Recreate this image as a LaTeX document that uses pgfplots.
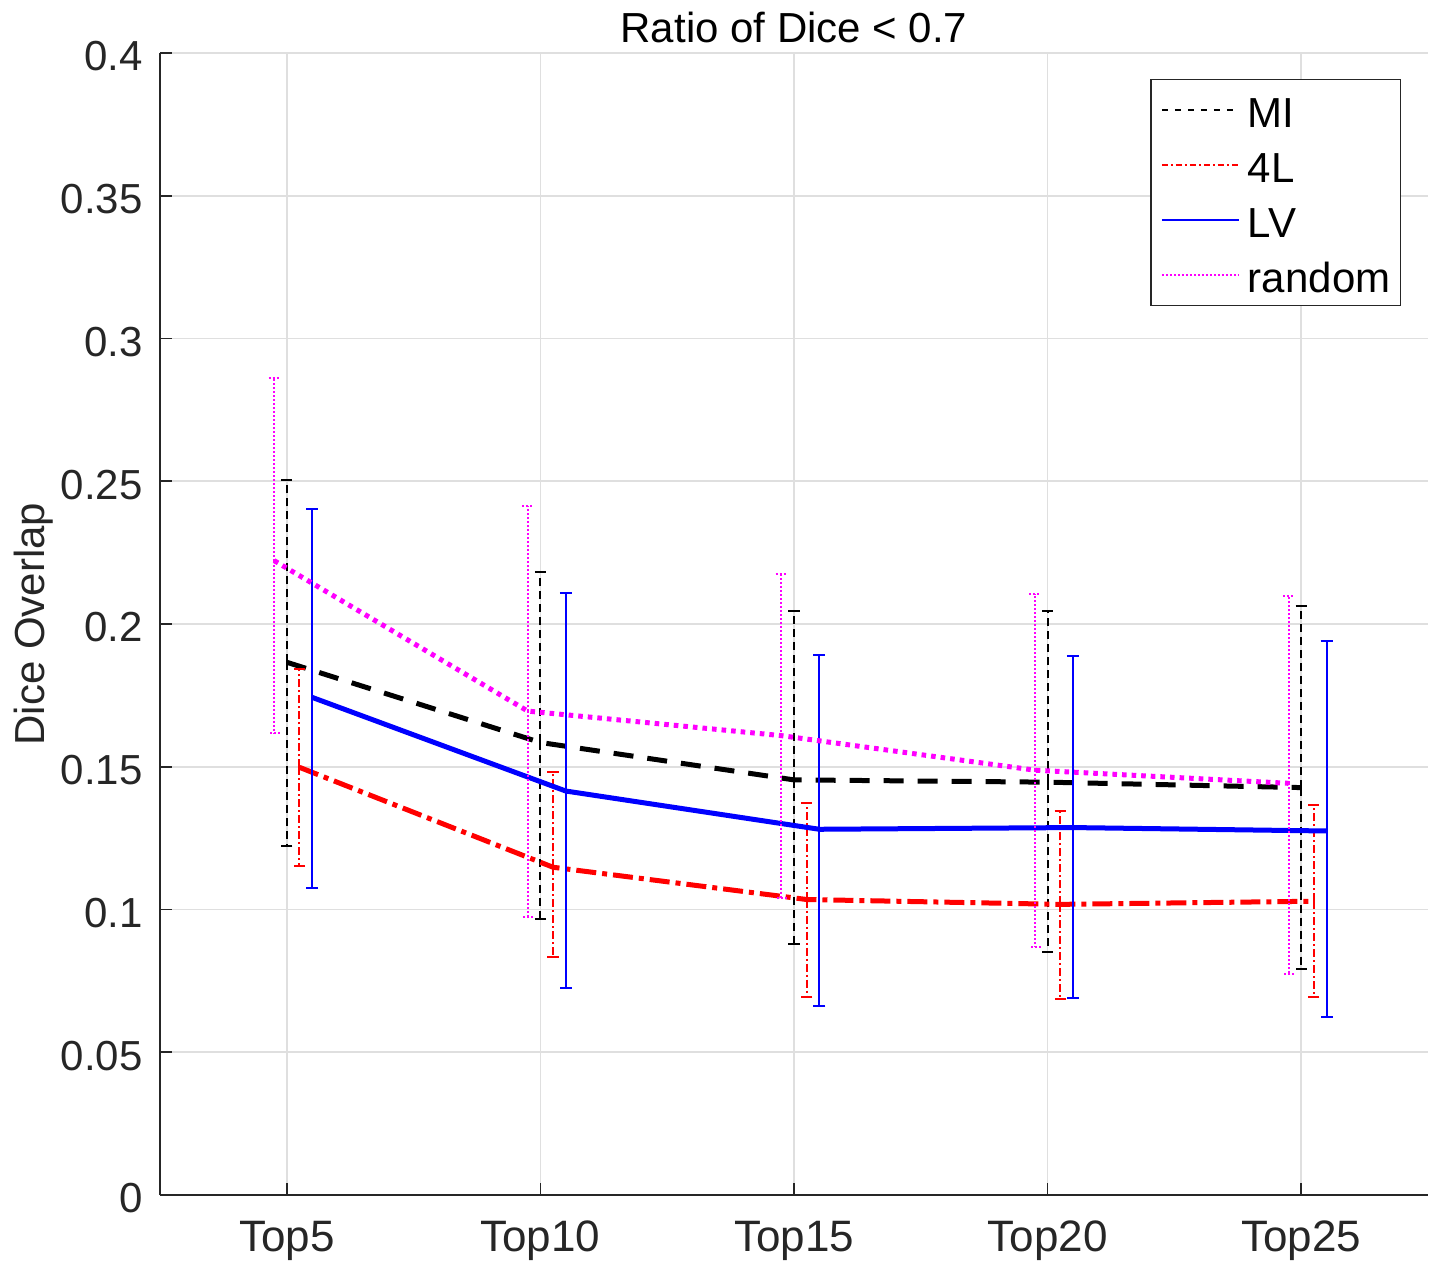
\documentclass[border=0pt]{standalone}
\usepackage{pgfplots}
\pgfplotsset{compat=1.18}
\usepackage{pgfplotstable}
\usepackage{fontspec}
\setmainfont{Liberation Sans}
\definecolor{axgray}{RGB}{38,38,38}
\definecolor{mred}{RGB}{255,0,0}
\definecolor{mblue}{RGB}{0,0,255}
\definecolor{mmag}{RGB}{255,0,255}

% category, mean, upper end, lower end
\pgfplotstableread{
c y hi lo
1 0.1866 0.2504 0.1223
2 0.1585 0.2182 0.0965
3 0.1454 0.2044 0.0880
4 0.1446 0.2044 0.0850
5 0.1427 0.2062 0.0792
}\tabMI
\pgfplotstableread{
c y hi lo
1 0.1498 0.1842 0.1153
2 0.1148 0.1482 0.0835
3 0.1035 0.1373 0.0694
4 0.1018 0.1346 0.0687
5 0.1029 0.1366 0.0694
}\tabFL
\pgfplotstableread{
c y hi lo
1 0.1743 0.2404 0.1074
2 0.1415 0.2108 0.0725
3 0.1281 0.1891 0.0663
4 0.1287 0.1889 0.0690
5 0.1275 0.1942 0.0622
}\tabLV
\pgfplotstableread{
c y hi lo
1 0.2222 0.2861 0.1617
2 0.1695 0.2412 0.0975
3 0.1609 0.2175 0.1039
4 0.1488 0.2105 0.0869
5 0.1442 0.2097 0.0774
}\tabRnd

\newcommand{\fs}{\fontsize{21}{25}\selectfont}
\newcommand{\fx}{\fontsize{22}{26}\selectfont}

\begin{document}
\begin{tikzpicture}
\useasboundingbox (-80pt,-32.5pt) rectangle (637.5pt,597.5pt);
\begin{axis}[
  at={(0,0)}, anchor=south west,
  scale only axis,
  width=634pt, height=571pt,
  xmin=0.5, xmax=5.5, ymin=0, ymax=0.4,
  axis lines=left,
  axis line style={-, line width=0.8pt, color=axgray},
  tick style={line width=0.8pt, color=axgray},
  tick align=inside,
  major tick length=6pt,
  grid=major,
  grid style={line width=0.8pt, color=gray!25},
  xtick={1,2,3,4,5},
  xticklabels={Top5,Top10,Top15,Top20,Top25},
  ytick={0,0.05,0.1,0.15,0.2,0.25,0.3,0.35,0.4},
  scaled y ticks=false,
  /pgf/number format/assume math mode=true,
  yticklabel style={/pgf/number format/fixed, /pgf/number format/precision=2,
    anchor=east, inner sep=0pt, xshift=-8.5pt, yshift=-1.7pt, font=\fs},
  xticklabel style={anchor=base, inner sep=0pt, yshift=-28pt, font=\fx},
  tick label style={color=axgray},
  title={Ratio of Dice < 0.7},
  title style={at={(axis description cs:0.5,1)}, anchor=base, yshift=-0.6pt,
    inner sep=0pt, font=\fs, color=black},
  ylabel={Dice Overlap},
  every axis y label/.style={at={(axis description cs:-0.0907,0.5)},
    rotate=90, anchor=base, inner sep=0pt, font=\fs, color=axgray},
  legend image code/.code={\draw[#1] (0pt,0pt) -- (38.5pt,0pt); \path (42.5pt,0pt);},
  legend cell align=left,
  legend style={at={(0.9787,0.9772)}, anchor=north east,
    draw=axgray, line width=0.6pt, fill=white, font=\fs, text=black,
    inner xsep=5pt, inner ysep=3pt, row sep=2.7pt,
    nodes={inner sep=0pt, text height=21pt, text depth=3.7pt}},
]
% MI
\addplot[black, line width=2.5pt, dash pattern=on 10pt off 7pt, forget plot,
  error bars/.cd, y dir=both, y explicit,
  error bar style={line width=1pt, dash pattern=on 4pt off 2.5pt},
  error mark options={rotate=90, solid, black, line width=1pt, mark size=2.8pt}]
  table[x expr=\thisrow{c}, y=y,
        y error plus expr=\thisrow{hi}-\thisrow{y},
        y error minus expr=\thisrow{y}-\thisrow{lo}] {\tabMI};
% 4L
\addplot[mred, line width=2.5pt, dash pattern=on 10pt off 3pt on 2.5pt off 3pt, forget plot,
  error bars/.cd, y dir=both, y explicit,
  error bar style={line width=1pt, dash pattern=on 4pt off 1.5pt on 1pt off 1.5pt},
  error mark options={rotate=90, solid, mred, line width=1pt, mark size=2.8pt}]
  table[x expr=\thisrow{c}+0.05, y=y,
        y error plus expr=\thisrow{hi}-\thisrow{y},
        y error minus expr=\thisrow{y}-\thisrow{lo}] {\tabFL};
% LV
\addplot[mblue, line width=2.5pt, solid, forget plot,
  error bars/.cd, y dir=both, y explicit,
  error bar style={line width=1pt, solid},
  error mark options={rotate=90, solid, mblue, line width=1pt, mark size=3pt}]
  table[x expr=\thisrow{c}+0.1, y=y,
        y error plus expr=\thisrow{hi}-\thisrow{y},
        y error minus expr=\thisrow{y}-\thisrow{lo}] {\tabLV};
% random
\addplot[mmag, line width=2.5pt, dash pattern=on 2.3pt off 2.5pt, forget plot,
  error bars/.cd, y dir=both, y explicit,
  error bar style={line width=1pt, dash pattern=on 1pt off 1pt},
  error mark options={rotate=90, mmag, line width=1pt, mark size=2.8pt, dash pattern=on 1pt off 1pt}]
  table[x expr=\thisrow{c}-0.05, y=y,
        y error plus expr=\thisrow{hi}-\thisrow{y},
        y error minus expr=\thisrow{y}-\thisrow{lo}] {\tabRnd};

\addlegendimage{black, line width=1pt, dash pattern=on 3pt off 3.5pt}
\addlegendentry{MI}
\addlegendimage{mred, line width=1pt, dash pattern=on 3pt off 1.5pt on 1pt off 1.5pt}
\addlegendentry{4L}
\addlegendimage{mblue, line width=1pt, solid}
\addlegendentry{LV}
\addlegendimage{mmag, line width=1pt, dash pattern=on 1pt off 1pt}
\addlegendentry{random}
\end{axis}
\end{tikzpicture}
\end{document}
